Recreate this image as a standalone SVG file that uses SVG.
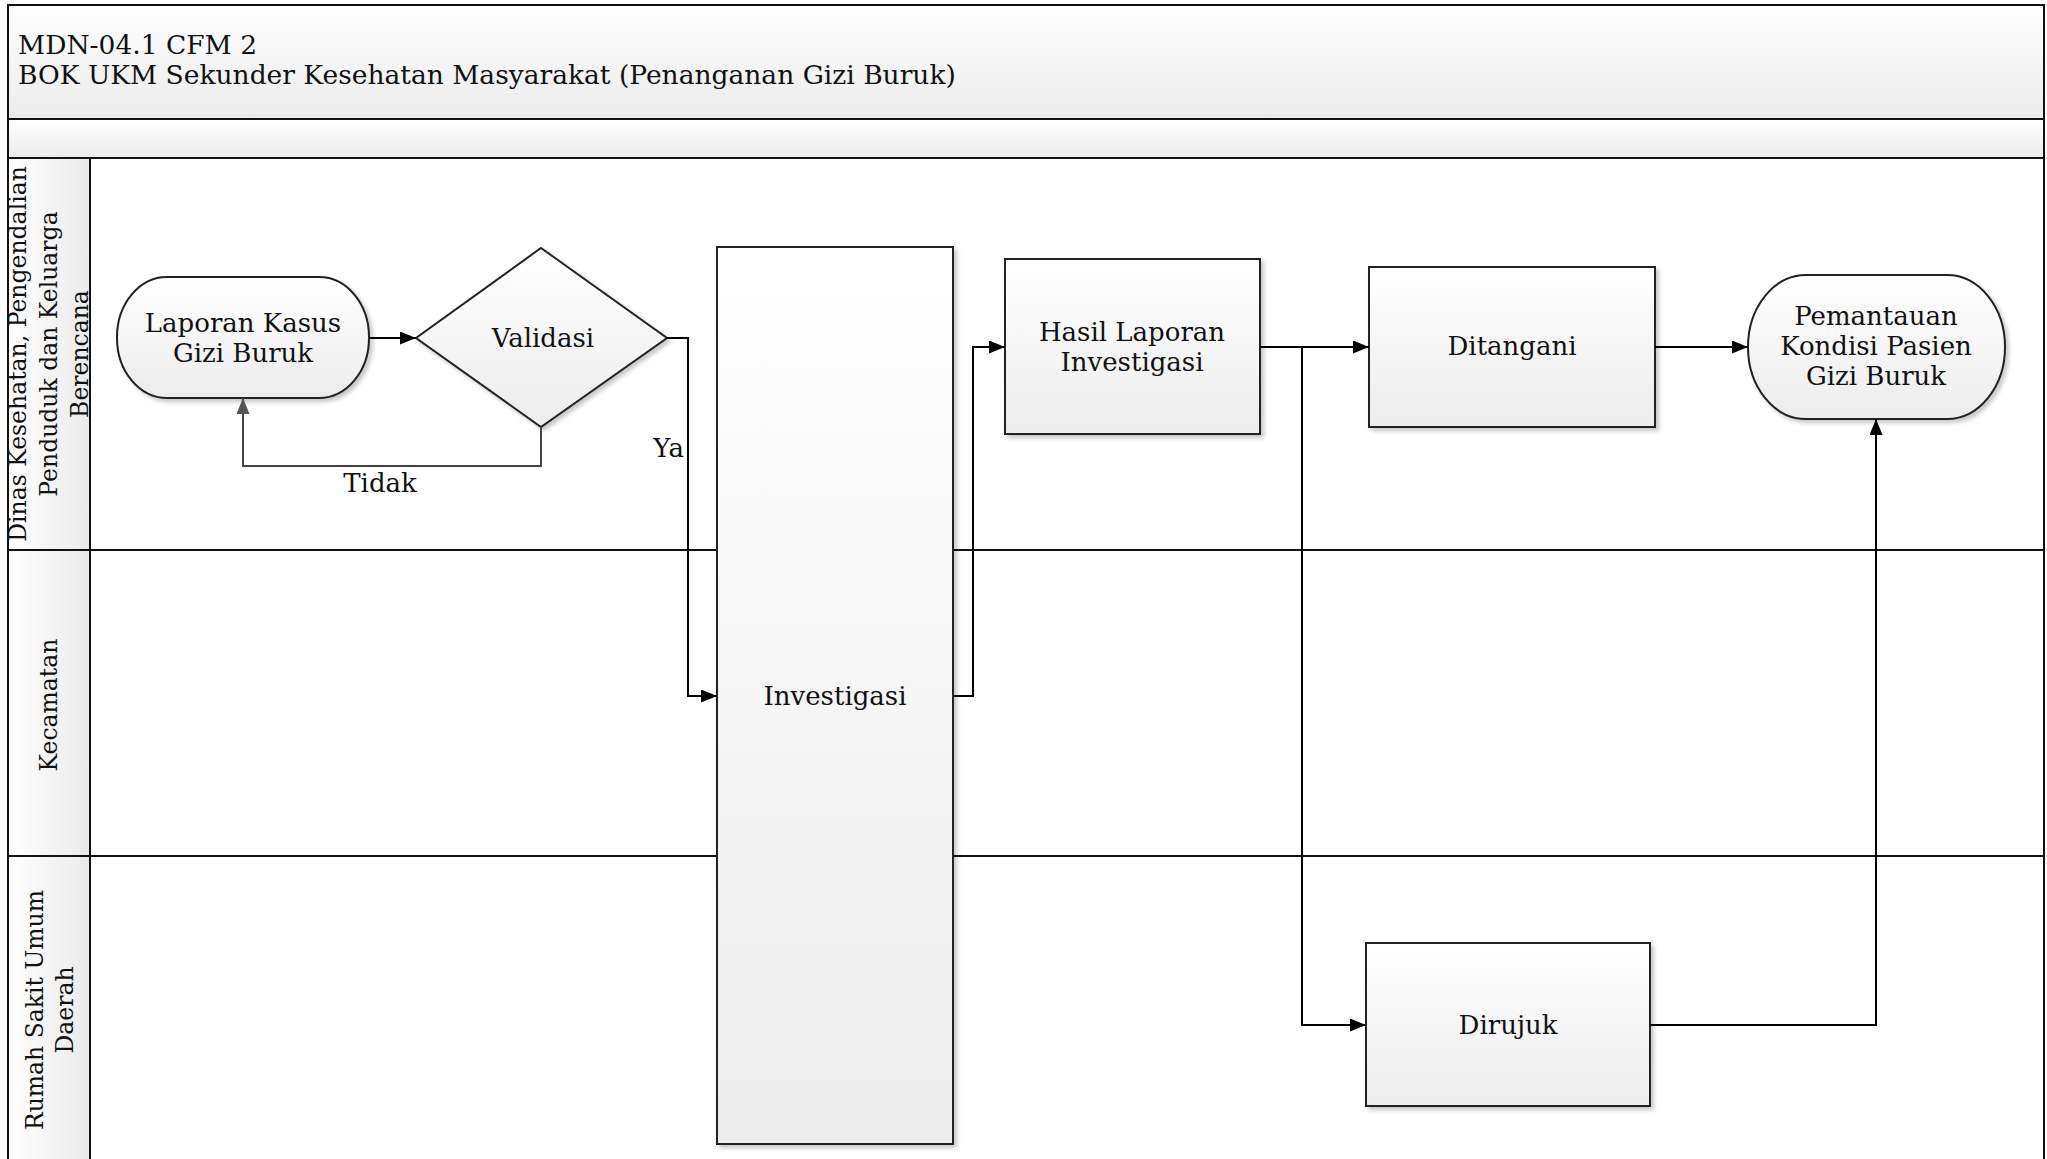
<svg xmlns="http://www.w3.org/2000/svg" width="2047" height="1159" viewBox="0 0 2047 1159">
  <defs>
    <linearGradient id="gNode" x1="0" y1="0" x2="0" y2="1">
      <stop offset="0" stop-color="#ffffff"/>
      <stop offset="1" stop-color="#ececec"/>
    </linearGradient>
    <linearGradient id="gHead" x1="0" y1="0" x2="0" y2="1">
      <stop offset="0" stop-color="#ffffff"/>
      <stop offset="1" stop-color="#ebebeb"/>
    </linearGradient>
    <linearGradient id="gLane" x1="0" y1="0" x2="1" y2="0">
      <stop offset="0" stop-color="#ffffff"/>
      <stop offset="1" stop-color="#eaeaea"/>
    </linearGradient>
    <filter id="shadow" x="-10%" y="-10%" width="120%" height="120%">
      <feDropShadow dx="3" dy="3" stdDeviation="2" flood-color="#000" flood-opacity="0.22"/>
    </filter>
    <marker id="arrow" viewBox="0 0 16 13" refX="16" refY="6.5" markerWidth="16" markerHeight="13" markerUnits="userSpaceOnUse" orient="auto">
      <path d="M0,0 L16,6.5 L0,13 z" fill="#000"/>
    </marker>
    <marker id="arrowGray" viewBox="0 0 16 13" refX="16" refY="6.5" markerWidth="16" markerHeight="13" markerUnits="userSpaceOnUse" orient="auto">
      <path d="M0,0 L16,6.5 L0,13 z" fill="#555"/>
    </marker>
  </defs>
  <style>
    text { font-family: "DejaVu Serif", "Liberation Serif", serif; fill: #111; }
    .t { font-size: 26px; text-anchor: middle; }
    .lane { font-size: 23.5px; text-anchor: middle; }
    .title { font-size: 26.5px; }
    .shape { fill: url(#gNode); stroke: #222; stroke-width: 2; filter: url(#shadow); }
    .conn { fill: none; stroke: #000; stroke-width: 2; marker-end: url(#arrow); }
    .connGray { fill: none; stroke: #444; stroke-width: 2; marker-end: url(#arrowGray); }
  </style>

  <rect x="0" y="0" width="2047" height="1159" fill="#ffffff"/>

  <!-- Pool header -->
  <g id="header">
    <rect x="8" y="5" width="2036" height="114" fill="url(#gHead)" stroke="#111" stroke-width="2"/>
    <rect x="8" y="119" width="2036" height="39" fill="url(#gHead)" stroke="#111" stroke-width="2"/>
    <text class="title" x="18" y="54">MDN-04.1 CFM 2</text>
    <text class="title" x="18" y="84">BOK UKM Sekunder Kesehatan Masyarakat (Penanganan Gizi Buruk)</text>
  </g>

  <!-- Lanes -->
  <g id="lane-dinas">
    <rect x="8" y="158" width="82" height="392" fill="url(#gLane)" stroke="#111" stroke-width="2"/>
    <g transform="translate(0,354) rotate(-90)">
      <text class="lane" x="0" y="26">Dinas Kesehatan, Pengendalian</text>
      <text class="lane" x="0" y="57">Penduduk dan Keluarga</text>
      <text class="lane" x="0" y="88">Berencana</text>
    </g>
  </g>
  <g id="lane-kecamatan">
    <rect x="8" y="550" width="82" height="306" fill="url(#gLane)" stroke="#111" stroke-width="2"/>
    <g transform="translate(0,705) rotate(-90)">
      <text class="lane" x="0" y="57">Kecamatan</text>
    </g>
  </g>
  <g id="lane-rsud">
    <rect x="8" y="856" width="82" height="310" fill="url(#gLane)" stroke="#111" stroke-width="2"/>
    <g transform="translate(0,1010) rotate(-90)">
      <text class="lane" x="0" y="43">Rumah Sakit Umum</text>
      <text class="lane" x="0" y="73">Daerah</text>
    </g>
  </g>
  <g id="lane-lines">
    <line x1="90" y1="158" x2="2044" y2="158" stroke="#111" stroke-width="2"/>
    <line x1="8" y1="550" x2="2044" y2="550" stroke="#111" stroke-width="2"/>
    <line x1="8" y1="856" x2="2044" y2="856" stroke="#111" stroke-width="2"/>
    <line x1="2044" y1="5" x2="2044" y2="1159" stroke="#111" stroke-width="2"/>
    <line x1="8" y1="5" x2="8" y2="1159" stroke="#111" stroke-width="2"/>
  </g>

  <!-- Nodes -->
  <g id="node-laporan">
    <rect class="shape" x="117" y="277" width="252" height="121" rx="50" ry="60"/>
    <text class="t" x="243" y="332">Laporan Kasus</text>
    <text class="t" x="243" y="362">Gizi Buruk</text>
  </g>
  <g id="node-validasi">
    <polygon class="shape" points="541,248 667,338 541,427 416,338"/>
    <text class="t" x="543" y="347">Validasi</text>
  </g>
  <g id="node-investigasi">
    <rect class="shape" x="717" y="247" width="236" height="897"/>
    <text class="t" x="835" y="705">Investigasi</text>
  </g>
  <g id="node-hasil">
    <rect class="shape" x="1005" y="259" width="255" height="175"/>
    <text class="t" x="1132" y="341">Hasil Laporan</text>
    <text class="t" x="1132" y="371">Investigasi</text>
  </g>
  <g id="node-ditangani">
    <rect class="shape" x="1369" y="267" width="286" height="160"/>
    <text class="t" x="1512" y="355">Ditangani</text>
  </g>
  <g id="node-pemantauan">
    <rect class="shape" x="1748" y="275" width="257" height="144" rx="58" ry="72"/>
    <text class="t" x="1876" y="325">Pemantauan</text>
    <text class="t" x="1876" y="355">Kondisi Pasien</text>
    <text class="t" x="1876" y="385">Gizi Buruk</text>
  </g>
  <g id="node-dirujuk">
    <rect class="shape" x="1366" y="943" width="284" height="163"/>
    <text class="t" x="1508" y="1034">Dirujuk</text>
  </g>

  <!-- Connectors -->
  <g id="connectors">
    <path class="conn" d="M369,338 L416,338"/>
    <path class="connGray" d="M541,427 L541,466 L243,466 L243,398"/>
    <text x="380" y="492" style="font-size:26px;text-anchor:middle">Tidak</text>
    <path class="conn" d="M667,338 L688,338 L688,696 L717,696"/>
    <text x="684" y="457" style="font-size:26px;text-anchor:end">Ya</text>
    <path class="conn" d="M953,696 L973,696 L973,347 L1005,347"/>
    <path class="conn" d="M1260,347 L1369,347"/>
    <path class="conn" d="M1302,347 L1302,1025 L1366,1025"/>
    <path class="conn" d="M1655,347 L1748,347"/>
    <path class="conn" d="M1650,1025 L1876,1025 L1876,419"/>
  </g>
</svg>
